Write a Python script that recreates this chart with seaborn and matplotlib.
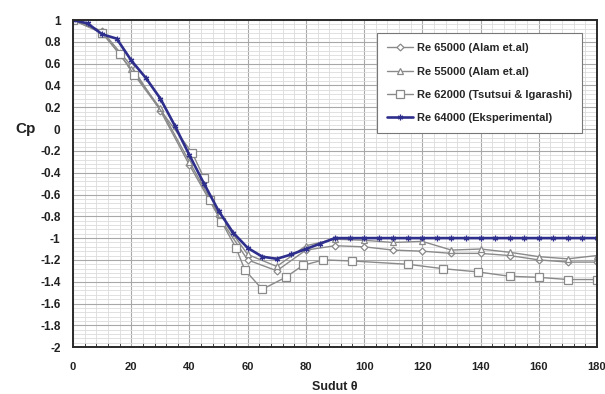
import matplotlib
matplotlib.use("Agg")
import matplotlib.pyplot as plt
from matplotlib.ticker import MultipleLocator, FuncFormatter
import seaborn as sns

# Re 65000 (Alam et.al)
theta_alam65 = [0, 10, 20, 30, 40, 50, 60, 70, 80, 90, 100, 110, 120, 130, 140, 150, 160, 170, 180]
cp_alam65 = [1.0, 0.90, 0.58, 0.17, -0.33, -0.80, -1.20, -1.30, -1.11, -1.07, -1.08, -1.11, -1.12,
             -1.14, -1.14, -1.16, -1.20, -1.22, -1.22]

# Re 55000 (Alam et.al)
theta_alam55 = [0, 10, 20, 30, 40, 50, 60, 70, 80, 90, 100, 110, 120, 130, 140, 150, 160, 170, 180]
cp_alam55 = [1.0, 0.89, 0.55, 0.19, -0.30, -0.78, -1.15, -1.26, -1.07, -1.01, -1.02, -1.04, -1.03,
             -1.11, -1.10, -1.13, -1.17, -1.19, -1.16]

# Re 62000 (Tsutsui & Igarashi)
theta_tsutsui = [0, 10, 16, 21, 41, 45, 47, 51, 56, 59, 65, 73, 79, 86, 96, 115, 127, 139, 150, 160, 170, 180]
cp_tsutsui = [1.0, 0.88, 0.69, 0.50, -0.22, -0.45, -0.65, -0.85, -1.09, -1.29, -1.47, -1.36, -1.25,
              -1.20, -1.21, -1.24, -1.28, -1.31, -1.35, -1.36, -1.38, -1.38]

# Re 64000 (Eksperimental)
theta_eksp = [0, 5, 10, 15, 20, 25, 30, 35, 40, 45, 50, 55, 60, 65, 70, 75, 80, 85, 90,
              95, 100, 105, 110, 115, 120, 125, 130, 135, 140, 145, 150, 155, 160, 165, 170, 175, 180]
cp_eksp = [1.0, 0.97, 0.87, 0.83, 0.63, 0.47, 0.28, 0.03, -0.24, -0.50, -0.75, -0.95, -1.09, -1.17,
           -1.19, -1.15, -1.10, -1.05, -1.0, -1.0, -1.0, -1.0, -1.0, -1.0, -1.0, -1.0, -1.0, -1.0,
           -1.0, -1.0, -1.0, -1.0, -1.0, -1.0, -1.0, -1.0, -1.0]

labels = ["Re 65000 (Alam et.al)", "Re 55000 (Alam et.al)",
          "Re 62000 (Tsutsui & Igarashi)", "Re 64000 (Eksperimental)"]

sns.set_style("white")
plt.rcParams["font.family"] = ["Liberation Sans", "DejaVu Sans"]

fig = plt.figure(figsize=(6.05, 3.94), dpi=100)
ax = fig.add_axes([0.1207, 0.119, 0.866, 0.830])

gray = "#8a8a8a"
navy = "#2e2e8c"

sns.lineplot(x=theta_alam65, y=cp_alam65, ax=ax, color=gray, lw=1.0, marker="D",
             markersize=3.5, markerfacecolor="white", markeredgecolor=gray,
             markeredgewidth=0.9, label=labels[0])
sns.lineplot(x=theta_alam55, y=cp_alam55, ax=ax, color=gray, lw=1.0, marker="^",
             markersize=5, markerfacecolor="white", markeredgecolor=gray,
             markeredgewidth=0.9, label=labels[1])
sns.lineplot(x=theta_tsutsui, y=cp_tsutsui, ax=ax, color=gray, lw=1.0, marker="s",
             markersize=5.5, markerfacecolor="white", markeredgecolor=gray,
             markeredgewidth=0.9, label=labels[2])
sns.lineplot(x=theta_eksp, y=cp_eksp, ax=ax, color=navy, lw=1.9, marker=(6, 2, 0),
             markersize=4, markeredgecolor=navy, markeredgewidth=0.9, label=labels[3])

ax.set_xlim(0, 180)
ax.set_ylim(-2, 1)
ax.xaxis.set_major_locator(MultipleLocator(20))
ax.xaxis.set_minor_locator(MultipleLocator(4))
ax.yaxis.set_major_locator(MultipleLocator(0.2))
ax.yaxis.set_minor_locator(MultipleLocator(0.04))
ax.yaxis.set_major_formatter(FuncFormatter(lambda v, p: f"{round(v, 1):g}"))

ax.grid(which="major", color="#a8a8a8", lw=0.8)
ax.grid(which="minor", color="#dcdcdc", lw=0.6)
ax.set_axisbelow(True)

for s in ax.spines.values():
    s.set_color("#2a2a2a")
    s.set_linewidth(1.4)
    s.set_visible(True)

ax.tick_params(axis="y", which="major", labelsize=8.5, length=0, pad=9, colors="#222222")
ax.tick_params(axis="x", which="major", labelsize=8, length=0, pad=11, colors="#222222")
ax.tick_params(axis="x", which="minor", direction="in", length=3, bottom=True, color="#2a2a2a")
for lbl in ax.get_xticklabels() + ax.get_yticklabels():
    lbl.set_fontweight("bold")

ax.set_xlabel("Sudut θ", fontsize=9, fontweight="bold", labelpad=6, color="#222222")
ax.set_ylabel("Cp", fontsize=11, fontweight="bold", rotation=0, color="#222222")
ax.yaxis.set_label_coords(-0.09, 0.645)

leg = ax.legend(loc="upper right", bbox_to_anchor=(0.971, 0.96), frameon=True, fancybox=False,
                prop={"size": 8, "weight": "bold"}, handlelength=2.4, handletextpad=0.3,
                labelspacing=1.2, borderpad=0.9, borderaxespad=0)
leg.get_frame().set_edgecolor("#777777")
leg.get_frame().set_linewidth(0.8)
leg.get_frame().set_alpha(1)

fig.savefig("out.png", dpi=100, facecolor="white")
